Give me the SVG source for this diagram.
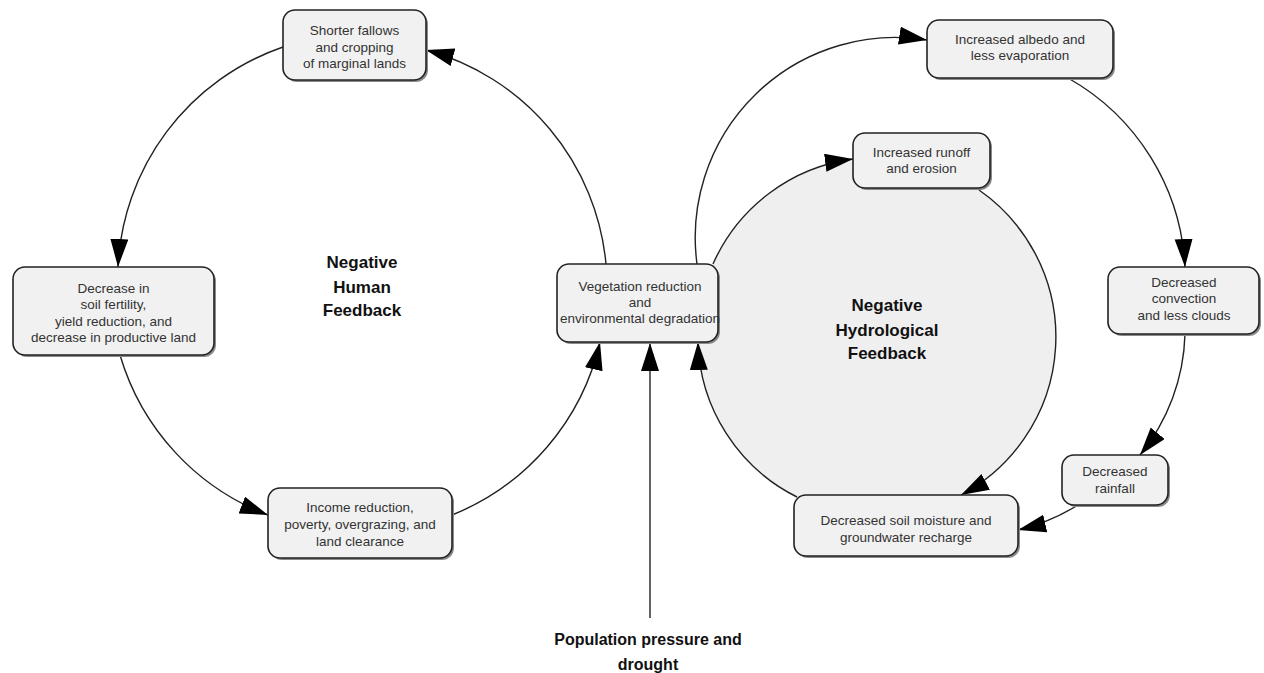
<svg xmlns="http://www.w3.org/2000/svg" width="1264" height="673" viewBox="0 0 1264 673">
<defs>
<style>
.box{fill:#f1f1f1;stroke:#222;stroke-width:1.6}
.shadow{fill:#8a8a8a}
.t{font-family:"Liberation Sans",Arial,sans-serif;font-size:13.5px;fill:#333;text-anchor:middle}
.lbl{font-family:"Liberation Sans",Arial,sans-serif;font-size:17px;font-weight:bold;fill:#111;text-anchor:middle}
.pop{font-family:"Liberation Sans",Arial,sans-serif;font-size:16px;font-weight:bold;fill:#111;text-anchor:middle}
.c{fill:none;stroke:#222;stroke-width:1.4;marker-end:url(#ah)}
</style>
<marker id="ah" markerUnits="userSpaceOnUse" markerWidth="30" markerHeight="20" refX="28" refY="9" orient="auto">
<path d="M0,0 L28,9 L0,18 z" fill="#000"/>
</marker>
</defs>
<rect width="1264" height="673" fill="#fff"/>
<circle id="hydro-area" cx="877" cy="337" r="179" fill="#efefef"/>
<g id="connectors">
<path class="c" d="M283,47 A245,245 0 0 0 118,267"/>
<path class="c" d="M120,355 A245,245 0 0 0 268,515"/>
<path class="c" d="M452,515 A245,245 0 0 0 600,342"/>
<path class="c" d="M606,264 A245,245 0 0 0 426,50"/>
<path class="c" d="M713,264 A179,179 0 0 1 853,159"/>
<path class="c" d="M979,190 A179,179 0 0 1 961,495"/>
<path class="c" d="M797,497 A179,179 0 0 1 698,342"/>
<path class="c" d="M697,264 A200,200 0 0 1 927,40"/>
<path class="c" d="M1068,78 A230,230 0 0 1 1185,267"/>
<path class="c" d="M1185,334 A200,200 0 0 1 1140,455"/>
<path class="c" d="M1078,505 A200,200 0 0 1 1018,530"/>
<path class="c" d="M650,618 L650,343"/>
</g>
<g id="shorter-fallows">
<rect class="shadow" x="285" y="12" width="143" height="70" rx="12"/>
<rect class="box" x="283" y="10" width="143" height="70" rx="12"/>
<text class="t" x="354.5" y="35">Shorter fallows</text>
<text class="t" x="354.5" y="52">and cropping</text>
<text class="t" x="354.5" y="68">of marginal lands</text>
</g>
<g id="decrease-fertility">
<rect class="shadow" x="15" y="269" width="201" height="88" rx="12"/>
<rect class="box" x="13" y="267" width="201" height="88" rx="12"/>
<text class="t" x="113.5" y="293">Decrease in</text>
<text class="t" x="113.5" y="309">soil fertility,</text>
<text class="t" x="113.5" y="326">yield reduction, and</text>
<text class="t" x="113.5" y="342">decrease in productive land</text>
</g>
<g id="income-reduction">
<rect class="shadow" x="270" y="490" width="184" height="70" rx="12"/>
<rect class="box" x="268" y="488" width="184" height="70" rx="12"/>
<text class="t" x="360" y="512">Income reduction,</text>
<text class="t" x="360" y="529">poverty, overgrazing, and</text>
<text class="t" x="360" y="546">land clearance</text>
</g>
<g id="vegetation-reduction">
<rect class="shadow" x="559" y="266" width="161" height="78" rx="12"/>
<rect class="box" x="557" y="264" width="161" height="78" rx="12"/>
<text class="t" x="640" y="291">Vegetation reduction</text>
<text class="t" x="640" y="307">and</text>
<text class="t" x="640" y="323">environmental degradation</text>
</g>
<g id="albedo">
<rect class="shadow" x="929" y="22" width="186" height="58" rx="12"/>
<rect class="box" x="927" y="20" width="186" height="58" rx="12"/>
<text class="t" x="1020" y="44">Increased albedo and</text>
<text class="t" x="1020" y="60">less  evaporation</text>
</g>
<g id="runoff">
<rect class="shadow" x="855" y="135" width="137" height="55" rx="12"/>
<rect class="box" x="853" y="133" width="137" height="55" rx="12"/>
<text class="t" x="921.5" y="157">Increased runoff</text>
<text class="t" x="921.5" y="173">and erosion</text>
</g>
<g id="convection">
<rect class="shadow" x="1110" y="269" width="151" height="67" rx="12"/>
<rect class="box" x="1108" y="267" width="151" height="67" rx="12"/>
<text class="t" x="1184" y="287">Decreased</text>
<text class="t" x="1184" y="303">convection</text>
<text class="t" x="1184" y="320">and  less clouds</text>
</g>
<g id="rainfall">
<rect class="shadow" x="1064" y="457" width="106" height="50" rx="12"/>
<rect class="box" x="1062" y="455" width="106" height="50" rx="12"/>
<text class="t" x="1115" y="476">Decreased</text>
<text class="t" x="1115" y="493">rainfall</text>
</g>
<g id="soil-moisture">
<rect class="shadow" x="796" y="497" width="224" height="61" rx="12"/>
<rect class="box" x="794" y="495" width="224" height="61" rx="12"/>
<text class="t" x="906" y="525">Decreased soil moisture and</text>
<text class="t" x="906" y="542">groundwater recharge</text>
</g>
<g id="human-label">
<text class="lbl" x="362" y="268">Negative</text>
<text class="lbl" x="362" y="293">Human</text>
<text class="lbl" x="362" y="316">Feedback</text>
</g>
<g id="hydro-label">
<text class="lbl" x="887" y="311">Negative</text>
<text class="lbl" x="887" y="336">Hydrological</text>
<text class="lbl" x="887" y="359">Feedback</text>
</g>
<g id="population">
<text class="pop" x="648" y="645">Population pressure and</text>
<text class="pop" x="648" y="670">drought</text>
</g>
</svg>
